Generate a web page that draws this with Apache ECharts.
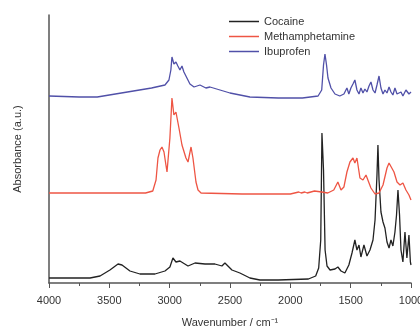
<!DOCTYPE html>
<html>
<head>
<meta charset="utf-8">
<script src="https://cdn.jsdelivr.net/npm/echarts@6/dist/echarts.min.js"></script>
<style>
  html, body { margin: 0; padding: 0; background: #fff; }
  #chart { width: 420px; height: 329px; }
</style>
</head>
<body>
<div id="chart"></div>
<script>
// wavenumber (cm-1) / absorbance (a.u., spectra offset vertically)
const cocaineWn = [4000,3660,3577,3495,3428,3395,3329,3246,3122,3039,2998,2973,2948,2915,2848,2790,2707,2625,2567,2542,2484,2418,2335,2252,2100,1850,1790,1765,1748,1738,1725,1712,1696,1671,1630,1606,1580,1548,1515,1489,1465,1448,1431,1415,1390,1365,1340,1315,1298,1282,1274,1265,1249,1232,1216,1199,1182,1166,1150,1133,1120,1108,1095,1083,1067,1050,1034,1017,1005,1000]
const cocaineAbs = [0.05,0.05,0.07,0.13,0.19,0.18,0.12,0.09,0.09,0.12,0.16,0.25,0.21,0.22,0.17,0.20,0.19,0.19,0.17,0.20,0.13,0.10,0.05,0.03,0.03,0.04,0.07,0.15,0.43,1.50,1.13,0.33,0.17,0.13,0.14,0.16,0.12,0.10,0.18,0.30,0.43,0.33,0.38,0.26,0.38,0.27,0.33,0.43,0.63,1.08,1.38,1.03,0.71,0.61,0.55,0.41,0.35,0.43,0.37,0.51,0.68,0.93,0.68,0.33,0.21,0.51,0.25,0.48,0.21,0.18]

const methWn = [4000,3800,3400,3200,3140,3113,3097,3080,3064,3047,3031,3022,2998,2981,2965,2948,2923,2898,2865,2848,2823,2807,2782,2765,2740,2400,2000,1930,1910,1880,1860,1830,1800,1740,1690,1640,1606,1580,1556,1531,1506,1481,1465,1448,1423,1398,1373,1357,1332,1298,1265,1232,1199,1182,1166,1141,1116,1091,1067,1042,1017,1000]
const methAbs = [0.90,0.90,0.90,0.90,0.92,1.03,1.25,1.33,1.36,1.31,1.18,1.11,1.45,1.85,1.68,1.71,1.55,1.38,1.25,1.21,1.36,1.25,1.01,0.93,0.90,0.89,0.89,0.91,0.90,0.91,0.90,0.91,0.92,0.91,0.90,0.93,1.01,0.93,0.96,1.11,1.21,1.25,1.20,1.25,1.05,1.03,1.08,1.06,0.95,0.89,0.90,0.98,1.15,1.20,1.21,1.11,1.01,0.98,1.00,0.93,0.88,0.83]

const ibuWn = [4000,3750,3600,3500,3300,3150,3039,3006,2990,2981,2965,2948,2932,2915,2898,2882,2857,2832,2798,2749,2700,2666,2583,2500,2335,2100,1900,1770,1740,1725,1713,1700,1688,1663,1630,1590,1556,1531,1515,1498,1481,1465,1448,1431,1415,1398,1382,1365,1348,1332,1315,1298,1282,1265,1249,1232,1216,1199,1182,1166,1150,1133,1116,1100,1083,1067,1042,1017,1000]
const ibuAbs = [1.87,1.86,1.86,1.88,1.92,1.95,1.98,2.03,2.13,2.26,2.19,2.21,2.17,2.13,2.17,2.11,2.05,1.99,1.96,1.98,1.95,1.96,1.93,1.90,1.86,1.85,1.85,1.87,1.93,2.18,2.29,2.18,2.05,1.95,1.89,1.87,1.89,1.95,1.89,1.95,1.99,2.03,1.93,1.89,1.95,1.90,1.94,1.91,1.97,2.01,1.93,1.90,1.98,2.07,1.95,1.89,1.93,1.90,1.96,1.91,1.88,1.95,1.89,1.87,1.91,1.87,1.93,1.89,1.91]

const xTicks = [4000, 3500, 3000, 2500, 2000, 1500, 1000]

const zip = (xs, ys) => xs.map((x, i) => [x, ys[i]])

const chart = echarts.init(document.getElementById('chart'))
const font = 'Liberation Sans, Arial, sans-serif'

chart.setOption({
    animation: false,
    textStyle: { fontFamily: font },
    grid: { left: 49, right: 9, top: 15, bottom: 46, outerBoundsMode: 'none', containLabel: false },
    legend: {
        orient: 'vertical',
        left: 224,
        top: 10,
        icon: 'rect',
        itemWidth: 30,
        itemHeight: 1.5,
        itemGap: 2,
        textStyle: { fontSize: 11, color: '#333', fontFamily: font, lineHeight: 13 },
        data: ['Cocaine', 'Methamphetamine', 'Ibuprofen']
    },
    xAxis: {
        type: 'value',
        inverse: true,
        min: 1000,
        max: 4000,
        interval: 500,
        name: 'Wavenumber / cm⁻¹',
        nameLocation: 'middle',
        nameGap: 34,
        nameTextStyle: { fontSize: 11, color: '#333' },
        axisLine: { lineStyle: { color: '#555', width: 1.5 } },
        axisTick: { length: 5, lineStyle: { color: '#555' } },
        minorTick: { show: true, splitNumber: 2, length: 3, lineStyle: { color: '#555' } },
        axisLabel: {
            fontSize: 11, color: '#333', margin: 12,
            formatter: v => xTicks.includes(v) ? String(v) : ''
        },
        splitLine: { show: false }
    },
    yAxis: {
        type: 'value',
        min: 0,
        max: 2.68,
        name: 'Absorbance (a.u.)',
        nameLocation: 'middle',
        nameGap: 26,
        nameTextStyle: { fontSize: 11, color: '#333' },
        axisLine: { show: true, lineStyle: { color: '#555', width: 1.5 } },
        axisTick: { show: false },
        axisLabel: { show: false },
        splitLine: { show: false }
    },
    series: [
        {
            name: 'Cocaine', type: 'line', symbol: 'none',
            lineStyle: { color: '#222', width: 1.3 }, itemStyle: { color: '#222' },
            data: zip(cocaineWn, cocaineAbs)
        },
        {
            name: 'Methamphetamine', type: 'line', symbol: 'none',
            lineStyle: { color: '#ee5544', width: 1.3 }, itemStyle: { color: '#ee5544' },
            data: zip(methWn, methAbs)
        },
        {
            name: 'Ibuprofen', type: 'line', symbol: 'none',
            lineStyle: { color: '#5050a8', width: 1.3 }, itemStyle: { color: '#5050a8' },
            data: zip(ibuWn, ibuAbs)
        }
    ]
})
</script>
</body>
</html>
